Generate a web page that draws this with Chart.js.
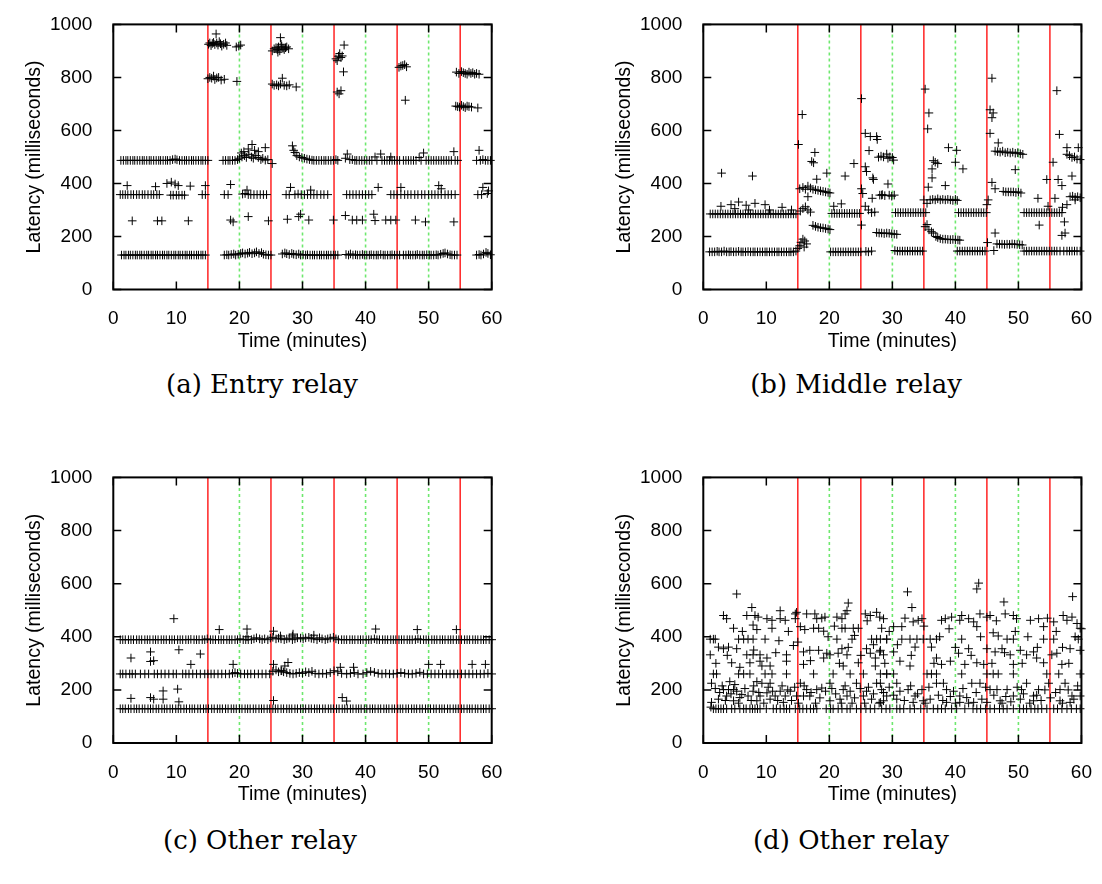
<!DOCTYPE html>
<html>
<head>
<meta charset="utf-8">
<script src="https://cdn.jsdelivr.net/npm/chart.js@4"></script>
<style>
html,body{margin:0;padding:0;background:#fff;}
#page{position:relative;width:1102px;height:884px;overflow:hidden;background:#fff;}
#page canvas{position:absolute;}
.cap{position:absolute;width:400px;text-align:center;font-family:'DejaVu Serif',serif;font-size:26px;line-height:30px;color:#000;white-space:nowrap;}
</style>
</head>
<body>
<div id="page">
  <canvas id="entry" width="551" height="365" style="left:0;top:0"></canvas>
  <canvas id="middle" width="512" height="365" style="left:590px;top:0"></canvas>
  <canvas id="otherC" width="551" height="365" style="left:0;top:453px"></canvas>
  <canvas id="otherD" width="512" height="365" style="left:590px;top:453px"></canvas>
  <div class="cap" style="left:62px;top:369px">(a) Entry relay</div>
  <div class="cap" style="left:656px;top:369px">(b) Middle relay</div>
  <div class="cap" style="left:60px;top:825px">(c) Other relay</div>
  <div class="cap" style="left:651px;top:825px">(d) Other relay</div>
</div>
<script>
// Axis ticks and event markers (minutes)
const timeTicks = [0, 10, 20, 30, 40, 50, 60];
const latencyTicks = [0, 200, 400, 600, 800, 1000];
const phaseLines = [15, 25, 35, 45, 55];
const markerLines = [20, 30, 40, 50];

// (a) Entry relay — [minute, latency ms]
const entryLow = [[1.3,130],[1.7,130],[2.0,130],[2.4,130],[2.7,130],[3.1,130],[3.5,130],[3.8,130],[4.2,130],[4.5,130],[4.9,130],[5.3,130],[5.6,130],[6.0,130],[6.3,130],[6.7,130],[7.0,130],[7.4,130],[7.8,130],[8.1,130],[8.5,130],[8.8,130],[9.2,130],[9.6,130],[9.9,130],[10.3,130],[10.6,130],[11.0,130],[11.4,130],[11.7,130],[12.1,130],[12.4,130],[12.8,130],[13.2,130],[13.5,130],[13.9,130],[14.2,130],[14.6,130],
[17.6,130],[18.0,131],[18.3,130],[18.7,132],[19.1,134],[19.4,130],[19.8,133],[20.2,136],[20.5,138],[20.9,134],[21.3,137],[21.6,140],[22.0,135],[22.4,138],[22.7,142],[23.1,136],[23.5,139],[23.8,133],[24.2,131],[24.6,130],[25.0,130],
[26.8,134],[27.2,138],[27.5,135],[27.9,132],[28.3,136],[28.6,133],[29.0,131],[29.4,134],[29.7,130],[30.1,132],[30.5,130],[30.8,131],[31.2,130],[31.6,130],[31.9,130],[32.3,130],[32.7,130],[33.0,130],[33.4,130],[33.8,130],[34.1,130],[34.5,130],[34.9,130],[35.2,130],[35.6,130],
[36.9,132],[37.3,130],[37.6,134],[38.0,130],[38.4,131],[38.7,130],[39.1,130],[39.5,132],[39.8,130],[40.2,130],[40.6,130],[40.9,131],[41.3,130],[41.7,130],[42.0,130],[42.4,132],[42.8,130],[43.1,130],[43.5,130],[43.9,130],[44.2,131],[44.6,130],[45.0,130],[45.4,130],
[46.0,130],[46.4,130],[46.8,131],[47.1,130],[47.5,130],[47.9,130],[48.2,132],[48.6,130],[49.0,130],[49.3,130],[49.7,131],[50.1,130],[50.4,130],[50.8,130],[51.2,131],[51.5,130],[51.9,133],[52.3,136],[52.6,138],[53.0,134],[53.4,131],[53.7,130],[54.1,130],[54.5,130],
[57.6,130],[58.0,132],[58.3,130],[58.7,134],[59.1,140],[59.4,136],[59.8,131]];

const entryMid = [[1.1,358],[1.5,358],[1.9,358],[2.3,358],[2.8,358],[3.2,358],[3.7,358],[4.1,358],[4.6,358],[5.0,358],[5.5,358],[6.0,358],[6.4,358],[6.9,358],[7.3,358],
[9.1,356],[9.5,356],[10.0,356],[10.4,356],[10.9,356],[11.3,356],[14.1,358],[14.6,358],[17.6,358],[18.2,358],
[20.5,360],[20.9,362],[21.4,358],[21.8,358],[22.3,358],[22.8,358],[23.3,358],[23.8,358],[24.3,358],
[27.4,358],[27.9,358],[28.8,358],[29.3,360],[29.8,358],[30.3,358],[30.8,358],[31.3,358],[31.8,358],[32.3,358],[32.9,358],[33.4,358],[34.0,358],
[37.0,358],[37.5,358],[38.0,358],[38.5,358],[39.0,358],[39.5,358],[40.0,358],[40.5,358],[41.0,358],
[44.0,358],[44.5,358],[45.0,358],[45.6,358],[46.2,358],[46.7,358],[47.2,358],[47.8,358],[48.3,358],[48.9,358],[49.4,358],[50.0,358],[50.5,358],[51.0,358],[51.5,358],[52.0,358],[52.6,358],[53.1,358],[53.6,358],[54.2,358],
[57.8,358],[58.4,358],[59.3,362],
[2.2,392],[6.7,388],[8.5,400],[9.2,405],[9.8,398],[10.3,392],[12.2,390],[14.6,392],[18.6,396],[21.2,375],[28.1,385],[31.3,375],[42.0,385],[45.6,385],[51.6,392],[52.0,380],[58.6,385],[59.5,372]];

const entryHigh = [[1.2,487],[1.6,487],[2.0,487],[2.3,487],[2.7,487],[3.1,487],[3.4,487],[3.8,487],[4.2,487],[4.6,487],[4.9,487],[5.3,487],[5.7,487],[6.0,487],[6.4,487],[6.8,487],[7.2,487],[7.5,487],[7.9,487],[8.3,487],[8.6,487],[9.0,487],[9.4,490],[9.8,492],[10.1,489],[10.5,487],[10.9,487],[11.3,487],[11.6,487],[12.0,487],[12.4,487],[12.7,487],[13.1,487],[13.5,487],[13.9,487],[14.2,487],[14.6,487],[15.0,487],
[17.4,487],[17.8,487],[18.2,487],[18.5,487],[18.9,487],[19.3,487],[19.7,490],[20.0,495],[20.4,500],[20.8,505],[21.1,498],[21.5,510],[21.9,500],[22.2,495],[22.6,505],[23.0,498],[23.4,490],[23.7,495],[24.1,488],[24.5,490],[25.2,475],
[20.3,515],[20.7,520],[21.4,530],[22.0,547],[22.4,525],[23.0,520],[24.1,535],
[28.4,542],[28.6,525],[28.8,517],[29.1,505],[29.5,500],[29.9,498],[30.3,495],[30.7,492],[31.1,490],[31.5,488],[31.8,487],[32.2,487],[32.6,487],[33.0,487],[33.4,487],[33.7,487],[34.1,487],[34.5,487],[34.9,487],[35.3,490],[35.6,487],
[36.8,495],[37.1,511],[37.5,490],[37.9,490],[38.3,487],[38.6,487],[39.0,487],[39.4,487],[39.8,487],[40.2,487],[40.6,487],[41.0,487],[41.5,500],[41.8,487],[42.4,511],[42.6,487],[43.0,487],[43.4,487],[43.8,487],[44.0,500],[44.2,487],[44.6,487],[45.0,487],[45.4,487],
[46.0,487],[46.4,487],[46.8,487],[47.2,487],[47.6,487],[48.0,487],[48.5,498],[48.8,487],[49.2,515],[49.6,487],[50.0,487],[50.4,487],[50.8,487],[51.2,487],[51.6,487],[52.0,487],[52.4,487],[52.8,487],[53.2,487],[53.6,487],[54.0,520],[54.2,487],[54.6,487],
[57.6,487],[58.0,525],[58.2,487],[58.6,490],[59.0,487],[59.4,487],[59.8,487]];

const entrySparse = [[3.0,259],[7.0,259],[7.7,259],[11.9,259],[18.6,262],[19.0,255],[21.4,275],[24.6,259],[27.6,265],[29.4,275],[29.7,284],[31.0,262],[34.9,262],[36.8,279],[37.9,262],[38.6,262],[39.5,262],[41.3,284],[41.5,260],[43.2,262],[44.0,262],[44.8,262],[47.9,262],[49.5,255],[54.0,255]];

const entryBurst = [[15.1,925],[15.3,930],[15.5,920],[15.7,928],[15.9,932],[16.1,924],[16.3,964],[16.4,930],[16.6,922],[16.8,935],[17.0,927],[17.2,918],[17.5,925],[17.8,930],[18.0,921],[19.5,915],[19.9,918],[20.2,922],
[15.0,795],[15.3,800],[15.6,797],[15.9,805],[16.1,792],[16.4,798],[16.7,800],[17.1,790],[17.6,793],[19.6,785],
[25.2,900],[25.5,908],[25.8,912],[26.0,905],[26.1,895],[26.2,915],[26.4,900],[26.5,950],[26.6,925],[26.7,918],[26.9,910],[27.1,905],[27.3,912],[27.5,915],[27.8,908],
[25.2,775],[25.5,770],[25.9,772],[26.2,768],[26.5,775],[26.8,797],[27.1,770],[27.5,768],[27.9,772],[29.0,764],
[35.3,870],[35.5,863],[35.7,880],[35.9,890],[36.1,875],[36.3,881],[36.6,922],[36.5,821],[35.5,745],[35.8,738],[36.1,750],
[45.3,838],[45.6,843],[45.9,845],[46.2,848],[46.5,840],[46.3,714],
[54.4,820],[54.8,815],[55.2,822],[55.5,818],[55.8,815],[56.1,812],[56.4,820],[56.7,815],[57.0,818],[57.3,812],[57.6,815],[58.0,812],
[54.3,692],[54.6,690],[54.9,688],[55.2,695],[55.5,690],[55.8,686],[56.1,692],[56.4,690],[56.8,688],[57.8,685]];

// (b) Middle relay
const middleLow = [[1.0,142],[1.4,142],[1.8,142],[2.2,144],[2.5,142],[2.9,142],[3.3,145],[3.7,142],[4.1,142],[4.4,143],[4.8,142],[5.2,142],[5.6,144],[6.0,142],[6.3,142],[6.7,142],[7.1,143],[7.5,142],[7.9,142],[8.2,142],[8.6,142],[9.0,142],[9.4,142],[9.8,142],[10.1,142],[10.5,142],[10.9,142],[11.3,142],[11.7,142],[12.0,142],[12.4,142],[12.8,142],[13.2,142],[13.6,142],[13.9,142],[14.3,142],[14.7,145],
[20.2,142],[20.6,142],[21.0,142],[21.4,142],[21.8,142],[22.2,142],[22.6,142],[23.0,142],[23.4,142],[23.8,142],[24.2,142],[24.6,142],[25.0,142],[25.8,144],[26.2,142],[26.7,145],
[30.4,147],[30.8,145],[31.2,145],[31.6,145],[32.0,145],[32.4,145],[32.8,145],[33.2,145],[33.6,145],[34.0,145],[34.4,145],[34.8,145],
[40.3,145],[40.7,145],[41.1,145],[41.5,145],[41.9,145],[42.3,145],[42.7,145],[43.1,145],[43.5,145],[43.9,145],[44.3,145],[44.7,145],
[50.9,145],[51.3,145],[51.7,145],[52.1,145],[52.5,145],[52.9,145],[53.3,145],[53.7,145],[54.1,145],[54.5,145],[54.9,145],[55.3,145],[55.7,145],[56.1,145],[56.6,145],[57.2,145],[57.7,145],[58.1,145],[58.5,145],[58.9,145],[59.3,145],[59.8,145]];

const middleBase = [[1.1,285],[1.5,285],[1.9,285],[2.3,285],[2.7,285],[3.1,285],[3.5,285],[3.9,285],[4.3,285],[4.7,285],[5.1,285],[5.5,285],[5.9,285],[6.3,285],[6.7,285],[7.1,285],[7.5,285],[7.9,285],[8.3,285],[8.7,285],[9.1,285],[9.5,285],[9.9,285],[10.3,285],[10.7,285],[11.1,285],[11.5,285],[11.9,285],[12.3,285],[12.7,285],[13.1,285],[13.5,285],[13.9,285],[14.3,285],[14.7,285],
[2.8,314],[4.4,320],[5.0,305],[5.6,330],[6.8,318],[7.2,300],[8.2,325],[9.8,320],[10.5,300],[12.5,310],[14.0,300],[2.9,439],[7.8,428],
[20.4,287],[20.8,287],[21.2,287],[21.6,287],[22.0,287],[22.4,287],[22.8,287],[23.2,287],[23.6,287],[24.0,287],[24.4,287],[24.8,287],
[30.5,290],[30.9,290],[31.3,290],[31.7,290],[32.1,290],[32.5,290],[32.9,290],[33.3,290],[33.7,290],[34.1,290],[34.5,290],[34.9,290],[35.3,290],
[40.5,290],[40.9,290],[41.3,290],[41.7,290],[42.1,290],[42.5,290],[42.9,290],[43.3,290],[43.7,290],[44.1,290],[44.5,290],[44.9,290],
[50.9,290],[51.3,290],[51.7,290],[52.1,290],[52.5,290],[52.9,290],[53.3,290],[53.7,290],[54.1,290],[54.5,290],[54.9,290],[55.3,290],[55.7,290],[56.1,290],[56.5,290],[56.9,290]];

const middleShift = [[15.0,155],[15.3,165],[15.5,178],[15.8,190],[16.0,160],[16.1,183],[16.4,172],
[15.4,296],[15.8,305],[16.2,312],[16.6,300],[17.0,292],
[15.3,380],[15.8,385],[16.2,378],[16.6,390],[17.0,383],[17.4,378],[17.8,376],[18.2,374],[18.6,372],[19.0,370],[19.4,368],[19.8,366],[20.1,364],
[17.4,242],[17.8,238],[18.2,235],[18.6,233],[19.0,232],[19.4,230],[19.8,228],[20.1,226],
[15.1,547],[15.7,660],[17.2,483],[17.5,478],[17.7,517],[18.0,416],[19.6,439],[16.6,350],
[20.7,314],[21.9,323],[22.5,428],[23.9,475],
[25.1,720],[25.7,589],[26.5,577],[27.5,577],[27.6,566],[26.3,524],[25.7,463],[25.9,445],[25.1,380],[25.3,362],[25.1,243],[26.9,421],[27.0,415],[26.8,344],[28.3,356],
[25.7,314],[26.2,300],[26.7,290],[27.2,292],
[27.8,499],[28.2,503],[28.6,500],[29.1,511],[29.3,495],[29.6,500],[30.0,498],[30.2,488],
[28.0,356],[28.4,358],[28.8,354],[29.3,398],[29.5,356],[29.9,352],[30.3,356],
[27.5,215],[27.9,213],[28.3,213],[28.7,211],[29.1,213],[29.5,212],[29.9,210],[30.3,209],[30.7,208],
[35.2,756],[35.8,666],[35.6,606],[36.5,486],[36.8,480],[37.2,475],[36.3,455],[36.3,421],[35.7,386],[38.4,392],[38.9,535],[40.2,525],[40.0,480],[41.2,455],
[35.0,338],[35.5,325],[36.0,338],[36.4,340],[36.8,338],[37.2,342],[37.6,338],[38.0,340],[38.4,338],[38.8,340],[39.2,338],[39.6,336],[40.0,340],[40.3,336],
[35.2,237],[35.5,245],[35.8,225],[36.2,218],[36.5,213],[36.9,200],[37.2,196],[37.6,192],[38.0,190],[38.4,190],[38.8,189],[39.2,188],[39.6,189],[40.0,188],[40.4,187],[40.7,186],
[45.8,797],[45.5,678],[46.0,666],[45.8,648],[45.5,589],[46.8,553],
[46.3,522],[46.7,520],[47.1,518],[47.5,522],[47.9,516],[48.3,518],[48.7,515],[49.1,518],[49.5,514],[49.9,516],[50.3,512],[50.7,510],
[45.8,404],[45.0,320],[45.2,338],[46.3,380],
[47.6,370],[48.0,368],[48.4,368],[48.8,368],[49.2,368],[49.6,366],[50.0,368],[50.4,364],
[49.5,452],[45.1,177],[46.3,213],[46.1,147],
[46.6,172],[47.0,171],[47.4,171],[47.8,170],[48.2,171],[48.6,170],[49.0,172],[49.4,171],[49.8,170],[50.2,169],[50.6,168],
[53.1,344],[53.3,243],[54.5,415],[54.7,314],[55.5,480],[55.8,344],[56.1,750],[56.5,585],[56.3,415],[56.9,392],[57.0,310],[57.3,255],[56.9,204],[57.4,213],
[57.7,510],[58.1,505],[58.5,498],[58.9,500],[59.3,492],[59.8,490],[57.7,535],[59.5,535],[58.5,428],
[58.2,350],[58.6,352],[59.0,348],[59.4,350],[59.8,346],[57.7,320],[59.0,338]];

// (c) Other relay
const otherCLow = [[1.1,129],[1.5,129],[1.9,129],[2.4,129],[2.8,129],[3.3,129],[3.7,129],[4.1,129],[4.6,129],[5.0,129],[5.5,129],[5.9,129],[6.3,129],[6.8,129],[7.2,129],[7.7,129],[8.1,129],[8.5,129],[9.0,129],[9.4,129],[9.9,129],[10.3,129],[10.7,129],[11.2,129],[11.6,129],[12.1,129],[12.5,129],[12.9,129],[13.4,129],[13.8,129],[14.3,129],[14.7,129],[15.1,129],[15.6,129],[16.0,129],[16.5,129],[16.9,129],[17.3,129],[17.8,129],[18.2,129],[18.7,129],[19.1,129],[19.5,129],[20.0,129],[20.4,129],[20.9,129],[21.3,129],[21.7,129],[22.2,129],[22.6,129],[23.1,129],[23.5,129],[23.9,129],[24.4,129],[24.8,129],[25.3,129],[25.7,129],[26.1,129],[26.6,129],[27.0,129],[27.5,129],[27.9,129],[28.3,129],[28.8,129],[29.2,129],[29.7,129],[30.1,129],[30.5,129],[31.0,129],[31.4,129],[31.9,129],[32.3,129],[32.7,129],[33.2,129],[33.6,129],[34.1,129],[34.5,129],[34.9,129],[35.4,129],[35.8,129],[36.3,129],[36.7,129],[37.1,129],[37.6,129],[38.0,129],[38.5,129],[38.9,129],[39.3,129],[39.8,129],[40.2,129],[40.7,129],[41.1,129],[41.5,129],[42.0,129],[42.4,129],[42.9,129],[43.3,129],[43.7,129],[44.2,129],[44.6,129],[45.1,129],[45.5,129],[45.9,129],[46.4,129],[46.8,129],[47.3,129],[47.7,129],[48.1,129],[48.6,129],[49.0,129],[49.5,129],[49.9,129],[50.3,129],[50.8,129],[51.2,129],[51.7,129],[52.1,129],[52.5,129],[53.0,129],[53.4,129],[53.9,129],[54.3,129],[54.7,129],[55.2,129],[55.6,129],[56.1,129],[56.5,129],[56.9,129],[57.4,129],[57.8,129],[58.3,129],[58.7,129],[59.1,129],[59.6,129],[60.0,129]];

const otherCMid = [[1.1,260],[1.5,260],[2.0,260],[2.6,260],[3.0,260],[3.5,260],[4.3,260],[5.0,260],[5.6,260],[6.5,260],[7.0,260],[7.6,260],[8.2,260],[8.8,260],[9.5,260],[10.0,260],[11.0,260],[11.5,260],[12.0,260],[12.6,260],[13.2,260],[13.8,260],[14.5,260],[15.0,260],[15.5,260],[16.0,260],[16.6,260],[17.2,260],[17.8,260],[18.4,260],[18.9,262],[19.3,265],[19.7,262],[20.2,260],[20.8,260],[21.3,260],[21.8,260],[22.4,260],[23.0,260],[23.6,260],[24.2,260],[24.8,260],[25.3,270],[25.8,275],[26.2,268],[26.6,272],[27.0,268],[27.5,265],[28.0,262],[28.5,260],[29.0,262],[29.5,265],[30.0,262],[30.5,268],[31.0,265],[31.5,270],[32.0,262],[32.6,260],[33.2,262],[33.8,260],[34.4,265],[35.0,272],[35.6,268],[36.2,262],[37.0,260],[37.6,262],[38.2,265],[38.8,260],[39.6,260],[40.2,265],[40.8,270],[41.4,266],[42.0,262],[42.6,260],[43.2,262],[43.8,260],[44.4,260],[45.0,262],[45.6,265],[46.2,262],[46.8,260],[47.4,260],[48.0,262],[48.6,266],[49.2,260],[49.8,260],[50.4,260],[51.0,260],[51.6,260],[52.2,260],[52.8,260],[53.4,260],[54.0,260],[54.6,260],[55.2,260],[55.8,260],[56.4,260],[57.0,260],[57.6,260],[58.2,260],[58.8,260],[59.4,262],[60.0,260]];

const otherCTop = [[1.1,389],[1.5,389],[1.9,389],[2.4,389],[2.8,389],[3.2,389],[3.7,389],[4.1,389],[4.5,389],[5.0,389],[5.4,389],[5.8,389],[6.3,389],[6.7,389],[7.1,389],[7.6,389],[8.0,389],[8.4,389],[8.9,389],[9.3,389],[9.7,389],[10.2,389],[10.6,389],[11.0,389],[11.5,389],[11.9,389],[12.3,390],[12.8,389],[13.2,389],[13.6,389],[14.1,389],[14.5,389],[14.9,392],[15.4,389],[15.8,389],[16.2,389],[16.7,389],[17.1,389],[17.5,389],[18.0,389],[18.4,389],[18.8,389],[19.3,389],[19.7,389],[20.1,392],[20.6,389],[21.0,389],[21.4,389],[21.9,389],[22.3,392],[22.7,396],[23.2,392],[23.6,389],[24.0,392],[24.5,389],[24.9,395],[25.3,398],[25.8,392],[26.2,395],[26.6,392],[27.1,389],[27.5,392],[27.9,395],[28.4,389],[28.8,392],[29.2,396],[29.7,395],[30.1,392],[30.5,396],[31.0,398],[31.4,394],[31.8,392],[32.3,389],[32.7,396],[33.1,392],[33.6,389],[34.0,392],[34.4,395],[34.9,398],[35.3,392],[35.7,389],[36.2,389],[36.6,389],[37.0,389],[37.5,389],[37.9,389],[38.3,389],[38.8,389],[39.2,389],[39.6,389],[40.1,389],[40.5,389],[40.9,389],[41.4,392],[41.8,389],[42.2,389],[42.7,389],[43.1,389],[43.5,389],[44.0,389],[44.4,389],[44.8,389],[45.3,389],[45.7,389],[46.1,389],[46.6,389],[47.0,389],[47.4,389],[47.9,389],[48.3,392],[48.7,389],[49.2,389],[49.6,389],[50.0,389],[50.5,389],[50.9,389],[51.3,389],[51.8,389],[52.2,389],[52.6,389],[53.1,389],[53.5,389],[53.9,389],[54.4,389],[54.8,389],[55.2,389],[55.7,389],[56.1,389],[56.5,389],[57.0,389],[57.4,389],[57.8,389],[58.3,389],[58.7,389],[59.1,389],[59.6,389],[60.0,389]];

const otherCStray = [[9.6,468],[2.8,320],[5.9,343],[5.9,307],[6.4,310],[10.4,351],[13.8,335],[12.3,296],[16.8,427],[21.2,429],[21.2,400],[25.4,421],[26.5,403],[28.4,403],[19.0,296],[25.4,296],[26.7,272],[27.2,290],[27.7,303],[2.8,168],[5.9,171],[6.4,165],[7.9,196],[7.9,165],[10.2,203],[10.4,155],[25.4,160],[41.6,429],[48.2,427],[54.4,427],[28.5,410],[31.8,406],[36.0,285],[38.1,285],[50.0,296],[51.9,296],[56.9,296],[59.0,296],[36.3,171],[37.0,158]];

// (d) Other relay
const otherDFloor = [[1.2,135],[1.6,129],[2.0,129],[2.4,129],[2.8,129],[3.2,129],[3.7,129],[4.5,129],[5.0,129],[5.8,129],[6.4,129],[6.8,129],[7.4,129],[7.8,129],[8.2,129],[8.6,129],[9.0,129],[10.0,129],[11.1,129],[11.6,129],[12.2,129],[12.8,129],[13.2,129],[13.7,129],[14.6,129],[15.3,129],[15.8,129],[16.4,129],[17.0,129],[17.5,129],[18.0,129],[19.5,129],[20.2,129],[20.6,129],[21.4,129],[22.0,129],[22.8,129],[23.3,129],[24.3,129],[25.0,129],[25.8,129],[26.5,129],[27.2,129],[28.3,129],[29.0,129],[29.6,129],[30.7,129],[31.2,129],[31.8,129],[32.8,129],[33.5,129],[34.5,129],[35.5,129],[36.5,129],[37.2,129],[37.8,129],[38.4,129],[39.4,129],[40.2,129],[41.5,129],[42.8,129],[43.4,129],[44.0,129],[44.8,129],[45.5,129],[46.2,129],[47.0,129],[47.6,129],[48.2,129],[49.2,129],[50.2,129],[50.8,129],[51.3,129],[52.0,129],[52.6,129],[53.1,129],[53.7,129],[54.5,129],[55.6,129],[56.2,129],[56.9,129],[57.7,129],[58.4,129],[59.2,129],[59.8,129]];

const otherDSpread = [[5.3,561],[7.7,510],[3.2,480],[3.7,468],[6.9,480],[8.2,480],[8.7,474],[10.1,468],[10.9,462],[12.2,498],[12.2,468],[13.0,462],[14.6,486],[14.6,468],[4.8,432],[7.9,444],[8.5,427],[10.9,432],
[1.1,391],[1.6,391],[1.9,391],[5.6,391],[6.4,391],[7.1,391],[7.9,391],[9.8,391],[14.3,367],[2.4,361],[3.2,355],[4.0,361],[5.3,355],[1.1,332],[6.9,332],[7.9,332],[9.0,332],[4.5,302],[7.4,302],[9.0,308],[10.1,320],[9.3,290],[13.2,332],[13.2,308],[10.6,290],
[1.6,260],[2.1,260],[5.6,260],[6.4,260],[7.4,260],[9.8,260],[10.9,260],[13.2,260],[1.3,225],[3.2,201],[4.0,201],[4.8,201],[4.2,231],[8.5,231],[9.3,225],[10.6,225],
[5.3,195],[6.1,183],[7.1,177],[7.9,195],[9.0,177],[10.1,189],[11.4,177],[12.2,195],[13.0,177],[13.8,195],[1.3,153],[2.4,165],[3.7,177],[4.8,159],[5.8,171],[8.5,159],[10.6,165],[12.7,153],
[1.9,205],[2.6,190],[3.0,215],[3.5,160],[4.4,185],[5.0,220],[5.6,150],[6.6,205],[7.6,160],[8.0,215],[8.8,190],[9.6,150],[10.3,210],[11.0,195],[11.8,160],[12.5,215],[13.4,200],[14.0,160],
[2.0,300],[3.8,330],[5.8,285],[6.2,420],[8.0,350],[11.5,340],[12.0,385],[13.5,420],
[14.8,492],[16.4,486],[17.7,486],[18.0,468],[19.3,474],[21.2,474],[22.0,468],[22.5,486],[23.0,527],[22.8,498],[25.7,486],[26.5,480],[27.5,492],[28.0,474],[28.3,432],
[15.4,438],[16.1,427],[17.5,432],[18.3,432],[19.1,421],[22.0,432],[22.5,432],[23.8,432],[24.6,432],
[21.2,391],[23.6,391],[26.7,391],[27.5,391],[29.1,391],
[15.9,343],[16.9,349],[18.3,349],[19.6,338],[20.1,332],[21.4,338],[22.0,355],[22.8,332],[24.6,302],[25.9,355],[26.5,338],[28.0,343],[27.3,320],[28.6,332],
[15.9,296],[17.5,260],[19.1,320],[20.6,260],[22.2,290],[23.3,260],[25.4,260],[27.3,290],[29.1,260],
[15.0,380],[17.0,310],[18.8,470],[19.8,400],[20.8,440],[21.6,300],[23.0,360],[24.0,405],[25.0,330],[26.0,460],[27.0,370],
[15.4,225],[16.4,201],[18.0,201],[18.8,207],[20.1,225],[22.2,201],[23.3,195],[24.3,225],[25.9,195],[27.5,225],[28.3,201],[29.1,177],
[14.8,177],[15.9,177],[16.9,177],[20.1,159],[21.7,165],[22.8,177],[25.4,177],[26.7,165],[28.6,159],
[14.5,210],[15.1,150],[16.0,215],[17.1,190],[17.8,150],[18.5,170],[19.4,195],[20.4,205],[21.0,185],[21.9,150],[22.5,215],[23.6,150],[24.0,170],[24.9,205],[25.6,150],[26.2,210],[27.0,185],[27.9,150],
[32.4,569],[33.1,510],[43.7,602],[43.4,580],[47.7,531],[58.6,551],
[28.6,468],[30.2,438],[31.5,438],[33.3,456],[34.1,462],[34.7,468],[37.8,462],[38.4,468],[39.4,474],[40.7,462],[42.1,468],[42.9,456],[43.4,438],[43.9,486],[45.0,474],[45.5,480],[47.9,486],[49.2,480],[49.7,468],[51.9,462],[53.2,468],[54.0,438],[55.6,456],[57.1,480],[57.7,462],[58.5,474],[59.3,450],[59.8,432],
[28.1,391],[29.1,391],[31.5,391],[32.8,391],[33.9,391],[34.9,391],[36.0,391],[37.0,391],[41.0,391],[48.2,391],[49.2,391],[54.0,391],[55.6,391],[59.5,391],
[28.1,349],[30.2,343],[31.2,308],[32.8,290],[33.6,361],[36.2,361],[37.0,320],[37.8,296],[39.2,308],[40.5,338],[41.5,296],[42.1,355],[43.4,302],[44.5,296],[45.0,355],[46.0,415],[46.3,343],[46.8,403],[47.4,355],[48.7,332],[49.2,296],[50.3,349],[51.3,332],[52.4,343],[52.9,320],[54.0,302],[55.3,332],[56.1,338],[56.9,296],[58.2,355],[59.8,349],
[28.8,300],[29.5,420],[30.8,370],[32.0,470],[33.0,330],[35.0,440],[36.6,300],[37.5,400],[39.0,430],[40.0,360],[41.0,480],[42.5,330],[44.0,400],[45.8,300],[46.5,460],[47.8,340],[49.5,420],[50.6,300],[51.5,400],[53.0,360],[54.6,470],[56.0,420],[57.0,360],[58.0,300],[59.0,400],[60.0,430],
[28.1,260],[29.1,260],[30.2,260],[35.5,260],[36.2,260],[37.0,260],[41.0,260],[45.0,260],[46.0,260],[46.8,260],[49.2,260],[54.5,260],[56.4,260],[59.8,260],
[28.1,225],[30.7,225],[31.2,195],[32.5,201],[33.6,177],[34.7,201],[37.0,225],[38.1,225],[38.6,201],[39.7,195],[40.7,177],[41.8,171],[42.6,225],[43.9,225],[45.5,201],[46.6,201],[48.2,201],[49.2,177],[50.5,201],[51.3,225],[52.4,177],[53.2,201],[54.8,225],[56.6,201],[57.4,225],[58.5,177],[59.8,177],
[28.1,153],[30.7,165],[33.3,153],[34.9,159],[36.0,165],[38.6,153],[40.7,153],[42.9,153],[45.0,153],[47.1,159],[50.3,165],[52.4,159],[56.6,159],[58.2,153],
[28.6,190],[29.5,210],[30.2,180],[31.9,160],[32.9,215],[34.0,185],[35.2,150],[35.8,210],[37.3,180],[38.0,160],[39.2,175],[40.0,150],[41.2,205],[42.1,150],[43.3,190],[44.2,165],[44.8,210],[46.1,180],[47.4,150],[48.0,175],[48.8,155],[49.8,210],[50.8,185],[51.8,150],[52.9,180],[53.6,160],[54.2,200],[55.1,170],[55.9,190],[57.0,150],[57.9,200],[58.8,165],[59.4,215]];

Chart.defaults.font.family = "'Liberation Sans', Arial, Helvetica, sans-serif";
Chart.defaults.color = '#000';

// Box, inward tick marks on all four sides
const framePlugin = {
  id: 'frame',
  afterDatasetsDraw(chart) {
    const {ctx, chartArea: a, scales: {x, y}} = chart;
    ctx.save();
    ctx.strokeStyle = '#000';
    ctx.lineWidth = 1.5;
    ctx.beginPath();
    x.ticks.forEach(t => {
      const px = x.getPixelForValue(t.value);
      ctx.moveTo(px, a.bottom); ctx.lineTo(px, a.bottom - 8);
      ctx.moveTo(px, a.top); ctx.lineTo(px, a.top + 8);
    });
    y.ticks.forEach(t => {
      const py = y.getPixelForValue(t.value);
      ctx.moveTo(a.left, py); ctx.lineTo(a.left + 8, py);
      ctx.moveTo(a.right, py); ctx.lineTo(a.right - 8, py);
    });
    ctx.stroke();
    ctx.lineWidth = 2;
    ctx.strokeRect(a.left, a.top, a.right - a.left, a.bottom - a.top);
    ctx.restore();
  }
};

function guideLines() {
  const out = [];
  phaseLines.forEach(t => out.push({
    type: 'line', data: [{x: t, y: 0}, {x: t, y: 1000}],
    borderColor: '#ff0000', borderWidth: 1.3, pointRadius: 0, fill: false, order: 2
  }));
  markerLines.forEach(t => out.push({
    type: 'line', data: [{x: t, y: 0}, {x: t, y: 1000}],
    borderColor: '#6ee86e', borderWidth: 1.6, borderDash: [3, 3], pointRadius: 0, fill: false, order: 2
  }));
  return out;
}

function buildPanel(id, geo, clouds) {
  const points = clouds.map(c => ({
    type: 'scatter',
    data: c.map(p => ({x: p[0], y: p[1]})),
    pointStyle: 'cross', pointRadius: 4.3, borderColor: '#000', backgroundColor: '#000',
    borderWidth: 1, clip: 6, order: 1
  }));
  new Chart(document.getElementById(id), {
    type: 'scatter',
    data: {datasets: [...guideLines(), ...points]},
    options: {
      responsive: false, animation: false, events: [], devicePixelRatio: 1,
      layout: {padding: {top: geo.padTop, right: geo.padRight, bottom: 0, left: 0}},
      plugins: {legend: {display: false}, tooltip: {enabled: false}},
      scales: {
        x: {
          type: 'linear', min: 0, max: 60,
          grid: {display: false}, border: {display: false},
          afterBuildTicks: s => { s.ticks = timeTicks.map(v => ({value: v})); },
          ticks: {padding: 10, font: {size: 19}, color: '#000', maxRotation: 0, autoSkip: false, callback: v => String(v)},
          title: {display: true, text: 'Time (minutes)', font: {size: 19.5}, color: '#000', padding: {top: 0, bottom: 11.3}},
          afterFit: s => { s.height = geo.xHeight; }
        },
        y: {
          type: 'linear', min: 0, max: 1000,
          grid: {display: false}, border: {display: false},
          afterBuildTicks: s => { s.ticks = latencyTicks.map(v => ({value: v})); },
          ticks: {padding: 13, font: {size: 19}, color: '#000', autoSkip: false, callback: v => String(v)},
          title: {display: true, text: 'Latency (milliseconds)', font: {size: 19.5}, color: '#000', padding: {top: 23.3, bottom: 0}},
          afterFit: s => { s.width = geo.yWidth; }
        }
      }
    },
    plugins: [framePlugin]
  });
}

const topRow = {padTop: 10, padRight: 59.3, xHeight: 75.5, yWidth: 113.3};
const topRowRight = {padTop: 10, padRight: 20, xHeight: 75.5, yWidth: 113.3};
const bottomRow = {padTop: 10.3, padRight: 59.3, xHeight: 75, yWidth: 113.3};
const bottomRowRight = {padTop: 10.3, padRight: 20, xHeight: 75, yWidth: 113.3};

buildPanel('entry', topRow, [entryLow, entryMid, entryHigh, entrySparse, entryBurst]);
buildPanel('middle', topRowRight, [middleLow, middleBase, middleShift]);
buildPanel('otherC', bottomRow, [otherCLow, otherCMid, otherCTop, otherCStray]);
buildPanel('otherD', bottomRowRight, [otherDFloor, otherDSpread]);
</script>
</body>
</html>
